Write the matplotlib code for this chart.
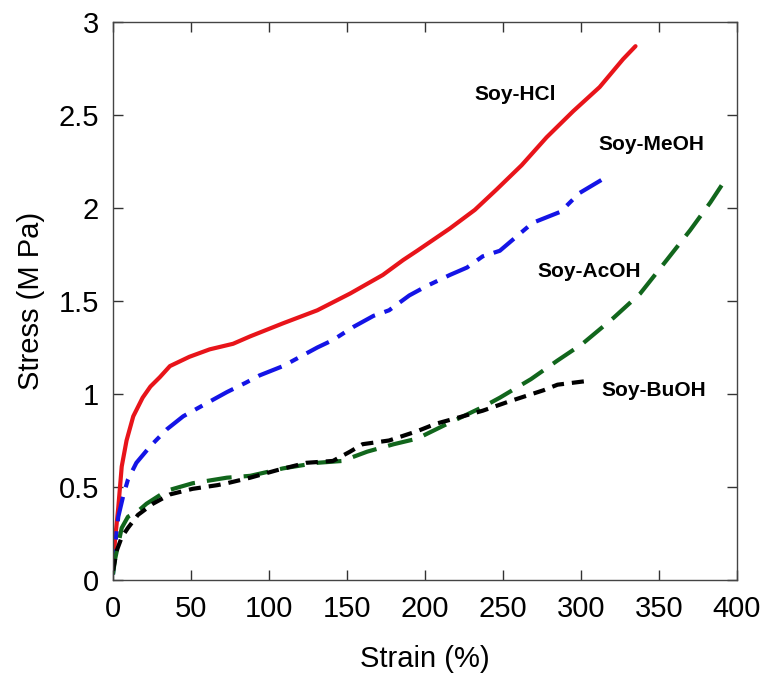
import matplotlib
matplotlib.use("Agg")
import matplotlib.pyplot as plt
import numpy as np

plt.rcParams['font.family'] = ['Liberation Sans', 'DejaVu Sans']

# strain (%) / stress (MPa)
hcl_x = [0, 1.3, 3.4, 5.6, 8.7, 13, 19, 24, 30, 36.5, 49, 62, 77, 88, 109, 131, 152,
         173, 186, 195, 216, 232, 246, 262, 278, 295, 312, 327, 335]
hcl_y = [0.05, 0.215, 0.39, 0.61, 0.75, 0.88, 0.98, 1.04, 1.09, 1.15, 1.20, 1.24, 1.27,
         1.31, 1.38, 1.45, 1.54, 1.64, 1.72, 1.77, 1.89, 1.99, 2.10, 2.23, 2.38, 2.52,
         2.65, 2.80, 2.87]

meoh_x = [0, 1.3, 3.4, 6.5, 9.6, 15, 24, 34.5, 45, 60, 73, 85, 94, 109, 120, 131, 141,
          154, 167, 177, 190, 201, 216, 227, 237, 248, 269, 287, 299, 317]
meoh_y = [0.03, 0.18, 0.34, 0.45, 0.54, 0.63, 0.72, 0.81, 0.88, 0.95, 1.01, 1.06, 1.10,
          1.15, 1.20, 1.25, 1.29, 1.36, 1.42, 1.45, 1.53, 1.58, 1.64, 1.68, 1.74, 1.77,
          1.92, 1.98, 2.08, 2.17]

acoh_x = [0, 1.3, 5.6, 9.6, 16, 21.5, 34.5, 51, 73, 88, 109, 131, 147, 163, 180, 195,
          212, 227, 237, 248, 268, 285, 301, 321, 338, 355, 370, 383, 394]
acoh_y = [0.03, 0.11, 0.28, 0.34, 0.37, 0.41, 0.48, 0.52, 0.55, 0.56, 0.60, 0.63, 0.64,
          0.69, 0.73, 0.76, 0.83, 0.89, 0.93, 0.98, 1.08, 1.18, 1.27, 1.41, 1.54, 1.72,
          1.88, 2.03, 2.17]

buoh_x = [0, 2.5, 5.6, 9.6, 16, 25.6, 36.5, 51, 67, 73, 88, 105, 124, 141, 152, 160,
          177, 195, 207, 220, 237, 254, 276, 285, 304]
buoh_y = [0.05, 0.16, 0.23, 0.28, 0.35, 0.41, 0.46, 0.49, 0.51, 0.52, 0.55, 0.59, 0.63,
          0.64, 0.69, 0.73, 0.75, 0.80, 0.84, 0.87, 0.91, 0.96, 1.02, 1.05, 1.07]

labels = ['Soy-HCl', 'Soy-MeOH', 'Soy-AcOH', 'Soy-BuOH']
label_pos = [(232, 2.61), (311, 2.34), (272, 1.66), (313, 1.02)]

fig = plt.figure(figsize=(7.66, 6.77), dpi=100)
ax = fig.add_axes([0.1475, 0.1433, 0.8145, 0.8242])

ax.plot(hcl_x, hcl_y, color='#e8141a', lw=3, solid_capstyle='round', solid_joinstyle='round')
ax.plot(meoh_x, meoh_y, color='#1414e6', lw=3, dashes=(6, 2.4, 2, 2.4))
ax.plot(acoh_x, acoh_y, color='#11661c', lw=3, dashes=(6, 2.9))
ax.plot(buoh_x, buoh_y, color='black', lw=3, dashes=(2.9, 1.9))

for lab, (x, y) in zip(labels, label_pos):
    ax.text(x, y, lab, fontsize=15, fontweight='bold', va='center', ha='left')

ax.set_xlim(0, 400)
ax.set_ylim(0, 3)
ax.set_xticks(np.arange(0, 401, 50))
ax.set_yticks(np.arange(0, 3.01, 0.5))
ax.set_yticklabels(['0', '0.5', '1', '1.5', '2', '2.5', '3'])
ax.tick_params(direction='in', length=7, width=1, top=True, right=True,
               labelsize=21, colors='#333333', labelcolor='black')
ax.tick_params(axis='x', pad=11)
ax.tick_params(axis='y', pad=10)
for s in ax.spines.values():
    s.set_color('#444444')
    s.set_linewidth(1)

ax.set_xlabel('Strain (%)', fontsize=21, labelpad=16)
ax.set_ylabel('Stress (M Pa)', fontsize=21, labelpad=10)

fig.savefig('out.png', dpi=100)
